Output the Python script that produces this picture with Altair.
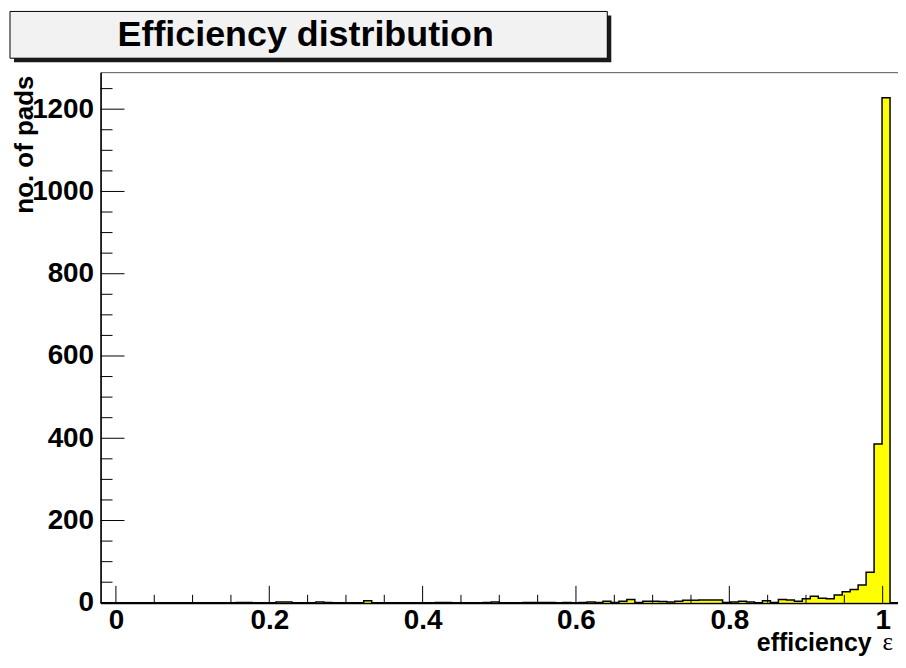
import altair as alt
import pandas as pd

TITLE = "Efficiency distribution"
X_TITLE = "efficiency"
X_SYMBOL = "ε"
Y_TITLE = "no. of pads"

N_BINS = 100
X_LO, X_HI = -0.02, 1.02
Y_MAX = 1290

# counts per bin (100 bins from -0.02 to 1.02)
counts = [
    0, 0, 0, 0, 0, 0, 0, 0, 0, 0,        # 0-9
    0, 0, 0, 0, 0, 0, 0, 1, 1, 0,        # 10-19
    0, 0, 2, 2, 0, 0, 0, 2, 1, 0,        # 20-29
    0, 0, 0, 5, 0, 0, 0, 0, 0, 0,        # 30-39
    0, 0, 1, 1, 0, 0, 0, 0, 1, 2,        # 40-49
    0, 0, 0, 1, 1, 1, 1, 0, 1, 0,        # 50-59
    1, 2, 1, 4, 1, 4, 8, 1, 4, 4,        # 60-69
    3, 2, 4, 6, 6, 7, 7, 7, 1, 2,        # 70-79
    4, 2, 0, 5, 1, 8, 7, 4, 10, 16,      # 80-89
    11, 10, 19, 27, 32, 43, 74, 386, 1228, 0,  # 90-99
]

x_major = [0, 0.2, 0.4, 0.6, 0.8, 1]
x_minor = [0.05, 0.1, 0.15, 0.25, 0.3, 0.35, 0.45, 0.5, 0.55, 0.65, 0.7, 0.75,
           0.85, 0.9, 0.95]
y_major = [0, 200, 400, 600, 800, 1000, 1200]
y_minor = [50, 100, 150, 250, 300, 350, 450, 500, 550, 650, 700, 750,
           850, 900, 950, 1050, 1100, 1150, 1250]

W, H = 801, 533
FONT = "Liberation Sans"

width_bin = (X_HI - X_LO) / N_BINS
edges = [X_LO + i * width_bin for i in range(N_BINS + 1)]
hist = pd.DataFrame({"x": edges, "n": counts + [counts[-1]]})

xscale = alt.Scale(domain=[X_LO, X_HI], nice=False, zero=False)
yscale = alt.Scale(domain=[0, Y_MAX], nice=False, zero=True)

xaxis = alt.Axis(
    values=x_major, format="~g", ticks=False, tickSize=0, grid=False,
    labelFont=FONT, labelFontWeight="bold", labelFontSize=28, labelColor="black",
    labelPadding=4, labelFlush=False, labelOverlap=False,
    domainColor="black", domainWidth=2,
    title=X_TITLE, titleFont=FONT, titleFontWeight="bold", titleFontSize=25,
    titleColor="black", titleAnchor="end", titleAlign="right",
    titleX=W - 27, titleY=40, titleBaseline="middle",
)
yaxis = alt.Axis(
    values=y_major, format="d", ticks=False, tickSize=0, grid=False,
    labelFont=FONT, labelFontWeight="bold", labelFontSize=28, labelColor="black",
    labelPadding=7, labelFlush=False, labelOverlap=False,
    domainColor="black", domainWidth=1.5,
    title=Y_TITLE, titleFont=FONT, titleFontWeight="bold", titleFontSize=26,
    titleColor="black", titleAngle=270, titleAlign="right", titleBaseline="middle",
    titleX=-76, titleY=3,
)

X = alt.X("x:Q", scale=xscale, axis=xaxis)
Y = alt.Y("n:Q", scale=yscale, axis=yaxis)

area = alt.Chart(hist).mark_area(interpolate="step-after", color="#ffff00").encode(x=X, y=Y)
outline = alt.Chart(hist).mark_line(interpolate="step-after", color="black",
                                    strokeWidth=1.5).encode(x=X, y=Y)

xmaj = alt.Chart(pd.DataFrame({"x": x_major})).mark_rule(color="black", strokeWidth=1).encode(
    x=X, y=alt.value(H), y2=alt.value(H - 17))
xmin = alt.Chart(pd.DataFrame({"x": x_minor})).mark_rule(color="black", strokeWidth=1).encode(
    x=X, y=alt.value(H), y2=alt.value(H - 8))
ymaj = alt.Chart(pd.DataFrame({"n": y_major})).mark_rule(color="black", strokeWidth=1).encode(
    y=Y, x=alt.value(0), x2=alt.value(24))
ymin = alt.Chart(pd.DataFrame({"n": y_minor})).mark_rule(color="black", strokeWidth=1).encode(
    y=Y, x=alt.value(0), x2=alt.value(12))

tdf = pd.DataFrame({"t": [TITLE], "s": [X_SYMBOL]})
shadow = alt.Chart(tdf).mark_rect(color="#1a1a1a").encode(
    x=alt.value(-87), x2=alt.value(513), y=alt.value(-57), y2=alt.value(-10))
box = alt.Chart(tdf).mark_rect(fill="#f2f2f2", stroke="black", strokeWidth=1).encode(
    x=alt.value(-91), x2=alt.value(509), y=alt.value(-61), y2=alt.value(-14))
ttext = alt.Chart(tdf).mark_text(font=FONT, fontWeight="bold", fontSize=36, color="black",
                                 align="center", baseline="middle").encode(
    text="t:N", x=alt.value(206), y=alt.value(-37))
sym = alt.Chart(tdf).mark_text(font="Liberation Serif", fontSize=25, color="black",
                               align="right", baseline="middle").encode(
    text="s:N", x=alt.value(W - 5), y=alt.value(H + 39))

chart = alt.layer(area, outline, xmin, xmaj, ymin, ymaj, shadow, box, ttext, sym).properties(
    width=W, height=H,
    autosize=alt.AutoSizeParams(type="none"),
    padding={"left": 93, "top": 63, "right": 0, "bottom": 52},
    background="white",
).configure_view(stroke="#555555", strokeWidth=1)

chart.save("out.html", embed_options={"renderer": "svg", "actions": False})
